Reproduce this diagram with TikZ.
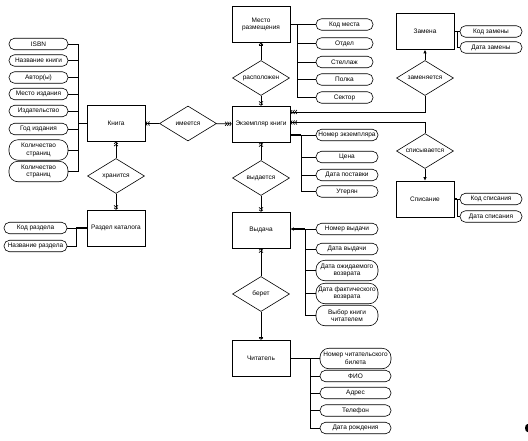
\documentclass[tikz,border=0pt]{standalone}
\usepackage{fontspec}
\setmainfont{Liberation Sans}
\usepackage{tikz}
\usetikzlibrary{shapes.geometric, arrows.meta}
\pgfdeclarelayer{edgelayer}
\pgfdeclarelayer{nodelayer}
\pgfsetlayers{edgelayer,nodelayer,main}
\tikzstyle{none}=[inner sep=0pt]
\tikzstyle{entity}=[rectangle, fill=white, draw=black, line width=0.6pt, minimum width=58pt, minimum height=36pt, inner sep=1pt, align=center, font=\fontsize{6.5}{7.5}\selectfont]
\tikzstyle{relation}=[diamond, aspect=1.6, fill=white, draw=black, line width=0.6pt, minimum width=57pt, minimum height=35pt, inner sep=0pt, font=\fontsize{6.5}{7.5}\selectfont]
\tikzset{attribute/.style={rectangle, rounded corners=5.5pt, fill=white, draw=black, line width=0.6pt, minimum width=#1, minimum height=11.5pt, inner sep=0pt, align=center, font=\fontsize{6.5}{7.5}\selectfont}, attribute/.default=60pt}
\tikzset{attributetwo/.style={attribute=#1, rounded corners=9pt, minimum height=20.5pt}, attributetwo/.default=60pt}
\tikzstyle{edge}=[draw=black, line width=0.6pt]
\tikzstyle{link}=[draw=black, line width=1.3pt]
\tikzstyle{tipone}=[draw=black, line width=0.7pt, -{Bar[width=4pt]>}]
\tikzstyle{tiptwo}=[draw=black, line width=0.7pt, ->>]
\tikzstyle{tipthree}=[draw=black, line width=0.7pt, ->>>]
\tikzstyle{tipfill}=[draw=black, line width=0.7pt, -{Latex[length=3.5pt,width=3.5pt]}]

\begin{document}
\begin{tikzpicture}[x=1pt, y=-1pt, >={Straight Barb[length=1.5pt,width=4pt]}]
	\useasboundingbox (0, 0) rectangle (528, 440);
	\begin{pgfonlayer}{nodelayer}
		% entities
		\node [style=entity] (0) at (116, 123.5) {Книга};
		\node [style=entity] (1) at (261, 124) {Экземпляр книги};
		\node [style=entity] (2) at (261, 24.5) {Место\\размещения};
		\node [style=entity] (3) at (261, 230) {Выдача};
		\node [style=entity] (4) at (261, 358) {Читатель};
		\node [style=entity] (5) at (116, 228) {Раздел каталога};
		\node [style=entity] (6) at (425, 31.5) {Замена};
		\node [style=entity] (7) at (425, 199) {Списание};
		% relations
		\node [style=relation] (10) at (188, 123.5) {имеется};
		\node [style=relation] (11) at (116, 176) {хранится};
		\node [style=relation] (12) at (261, 78) {расположен};
		\node [style=relation] (13) at (261, 178) {выдается};
		\node [style=relation] (14) at (261, 294) {берет};
		\node [style=relation] (15) at (425, 78) {заменяется};
		\node [style=relation] (16) at (425, 151) {списывается};
		% attributes
		\node [attribute=59pt] (20) at (38.5, 44) {ISBN};
		\node [attribute=59pt] (21) at (38.5, 60.5) {Название книги};
		\node [attribute=59pt] (22) at (38.5, 77.5) {Автор(ы)};
		\node [attribute=59pt] (23) at (38.5, 94) {Место издания};
		\node [attribute=59pt] (24) at (38.5, 111) {Издательство};
		\node [attribute=59pt] (25) at (38.5, 129) {Год издания};
		\node [attributetwo=59pt] (26) at (38.5, 150) {Количество\\страниц};
		\node [attributetwo=59pt] (27) at (38.5, 171.5) {Количество\\страниц};
		\node [attribute=57pt] (30) at (344.5, 24.5) {Код места};
		\node [attribute=57pt] (31) at (344.5, 43.5) {Отдел};
		\node [attribute=57pt] (32) at (344.5, 62) {Стеллаж};
		\node [attribute=57pt] (33) at (344.5, 79.5) {Полка};
		\node [attribute=57pt] (34) at (344.5, 97.5) {Сектор};
		\node [attribute=62pt] (35) at (491, 31.5) {Код замены};
		\node [attribute=62pt] (36) at (491, 47.5) {Дата замены};
		\node [attribute=62pt] (37) at (491, 199) {Код списания};
		\node [attribute=62pt] (38) at (491, 216.5) {Дата списания};
		\node [attribute=62pt] (40) at (347, 135) {Номер экземпляра};
		\node [attribute=62pt] (41) at (347, 157) {Цена};
		\node [attribute=62pt] (42) at (347, 175) {Дата поставки};
		\node [attribute=62pt] (43) at (347, 191.5) {Утерян};
		\node [attribute=62pt] (44) at (347, 229) {Номер выдачи};
		\node [attribute=62pt] (45) at (347, 249) {Дата выдачи};
		\node [attributetwo=62pt] (46) at (347, 270.5) {Дата ожидаемого\\возврата};
		\node [attributetwo=62pt] (47) at (347, 293.5) {Дата фактического\\возврата};
		\node [attributetwo=62pt] (48) at (347, 315.5) {Выбор книги\\читателем};
		\node [attributetwo=71pt] (50) at (355.5, 358.5) {Номер читательского\\билета};
		\node [attribute=71pt] (51) at (355.5, 376) {ФИО};
		\node [attribute=71pt] (52) at (355.5, 393) {Адрес};
		\node [attribute=71pt] (53) at (355.5, 410.5) {Телефон};
		\node [attribute=71pt] (54) at (355.5, 428) {Дата рождения};
		\node [attribute=63pt] (55) at (35.5, 228) {Код раздела};
		\node [attribute=63pt] (56) at (35.5, 246) {Название раздела};
		% bracket corners
		\coordinate (60) at (78, 44);
		\coordinate (61) at (297, 24.5);
		\coordinate (62) at (457, 31.5);
		\coordinate (63) at (457, 199);
		\coordinate (64) at (301, 135);
		\coordinate (65) at (305, 229);
		\coordinate (66) at (310, 358.5);
		\coordinate (67) at (76, 228);
	\end{pgfonlayer}
	\begin{pgfonlayer}{edgelayer}
		\draw [style=tiptwo] (10) to (0);
		\draw [style=tipthree] (10) to (1);
		\draw [style=tiptwo] (11) to (0);
		\draw [style=tiptwo] (11) to (5);
		\draw [style=tipone] (12) to (2);
		\draw [style=tiptwo] (12) to (1);
		\draw [style=tiptwo] (13) to (1);
		\draw [style=tiptwo] (13) to (3);
		\draw [style=tiptwo] (14) to (3);
		\draw [style=tipone] (14) to (4);
		\draw [style=tipthree] (15) |- ([yshift=12pt]1.east);
		\draw [style=tipthree] (16) |- ([yshift=1.5pt]1.east);
		\draw [style=tipfill] (15) to (6);
		\draw [style=tipfill] (16) to (7);
		% attribute brackets
		\draw [style=link] (0.west) -- (0.west -| 60);
		\foreach \n in {20,...,27}
			\draw [style=edge] (\n.east) -| (60);
		\draw [style=link] (2.east |- 61) -- (61);
		\foreach \n in {30,...,34}
			\draw [style=edge] (\n.west) -| (61);
		\draw [style=link] (6.east |- 62) -- (62);
		\foreach \n in {35,36}
			\draw [style=edge] (\n.west) -| (62);
		\draw [style=link] (7.east |- 63) -- (63);
		\foreach \n in {37,38}
			\draw [style=edge] (\n.west) -| (63);
		\draw [style=link] (1.east |- 64) -- (64);
		\foreach \n in {40,...,43}
			\draw [style=edge] (\n.west) -| (64);
		\draw [style=link, style=tipfill, line width=1.3pt] (65) -- (3.east |- 65);
		\foreach \n in {44,...,48}
			\draw [style=edge] (\n.west) -| (65);
		\draw [style=link] (4.east |- 66) -- (66);
		\foreach \n in {50,...,54}
			\draw [style=edge] (\n.west) -| (66);
		\draw [style=link] (5.west |- 67) -- (67);
		\foreach \n in {55,56}
			\draw [style=edge] (\n.east) -| (67);
	\end{pgfonlayer}
	\fill (527.5, 428) ellipse (2.5 and 4);
\end{tikzpicture}
\end{document}
